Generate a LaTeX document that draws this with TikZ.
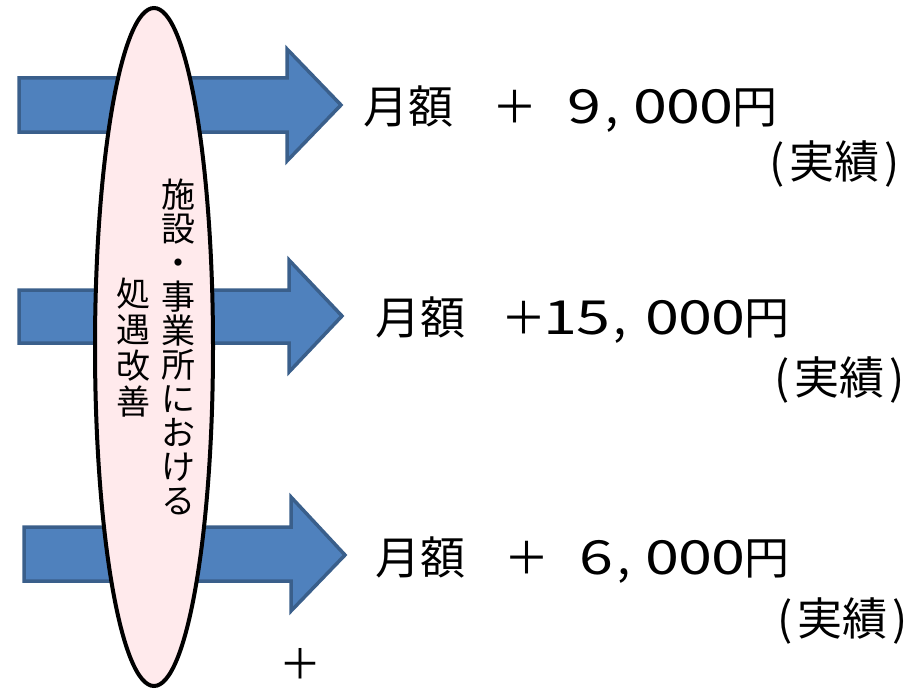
\documentclass[tikz,border=0pt]{standalone}
\usepackage{fontspec}
\newfontfamily\jp{Noto Sans CJK JP}
\newfontfamily\digfont[FakeStretch=1.3]{Noto Sans CJK JP}
\newcommand\dg[1]{\makebox[33pt]{\digfont\fontsize{47}{47}\selectfont #1}}
\newcommand\cm[1]{\makebox[#1][l]{\hspace{4pt}{\fontsize{47}{47}\selectfont ,}}}
\definecolor{arrowfill}{HTML}{4F81BD}
\definecolor{arrowline}{HTML}{3A5F8B}
\definecolor{ellfill}{HTML}{FFEAEC}
\begin{document}
\begin{tikzpicture}[x=1pt,y=-1pt,
  blockarrow/.style={fill=arrowfill,draw=arrowline,line width=3.5pt,line join=miter},
  oval/.style={fill=ellfill,draw=black,line width=4pt},
  lbl/.style={font=\jp\fontsize{45}{45}\selectfont,inner sep=0pt,anchor=base west},
  note/.style={font=\jp\fontsize{45}{45}\selectfont,inner sep=0pt,anchor=base west},
  vcol/.style={font=\jp\fontsize{34}{#1}\selectfont,inner sep=0pt,align=center}]
\useasboundingbox (0,0) rectangle (920,690);
% block arrows
\draw[blockarrow] (19,78) -- (287,78) -- (287,49) -- (341,105) -- (287,161) -- (287,132) -- (19,132) -- cycle;
\draw[blockarrow] (19,290) -- (289,290) -- (289,260) -- (342,316) -- (289,372) -- (289,343) -- (19,343) -- cycle;
\draw[blockarrow] (24,527) -- (291,527) -- (291,497) -- (345,555) -- (291,611) -- (291,581) -- (24,581) -- cycle;
% ellipse
\draw[oval] (154,347) ellipse [x radius=59, y radius=339];
% vertical texts
\node[vcol=34] (c1) at (178,347) {施\\設\\・\\事\\業\\所\\に\\お\\け\\る};
\node[vcol=36] (c2) at (133,348) {処\\遇\\改\\善};
% amounts
\node[lbl] (t1) at (363,124) {月額\hspace{39pt}＋\hspace{31pt}\dg{9}\cm{32.5pt}\dg{0}\dg{0}\dg{0}円};
\node[note] (r1) at (769,178) {(\hspace{5pt}実績\hspace{5pt})};
\node[lbl] (t2) at (375,334) {月額\hspace{36pt}＋\hspace{-2.5pt}\dg{1}\dg{5}\cm{36pt}\dg{0}\dg{0}\dg{0}円};
\node[note] (r2) at (774,394) {(\hspace{5pt}実績\hspace{5pt})};
\node[lbl] (t3) at (375,574) {月額\hspace{39pt}＋\hspace{31pt}\dg{6}\cm{32.5pt}\dg{0}\dg{0}\dg{0}円};
\node[note] (r3) at (777,635) {(\hspace{5pt}実績\hspace{5pt})};
\node[font=\jp\fontsize{42}{42}\selectfont,inner sep=0pt] (p) at (300,664) {＋};
\end{tikzpicture}
\end{document}
